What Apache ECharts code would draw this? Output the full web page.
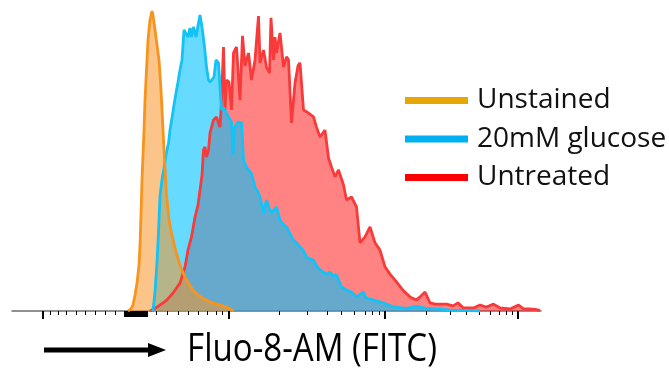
<!DOCTYPE html>
<html>
<head>
<meta charset="utf-8">
<script src="https://cdn.jsdelivr.net/npm/echarts@6/dist/echarts.min.js"></script>
<style>
html, body { margin: 0; padding: 0; background: #fff; }
#chart { width: 669px; height: 370px; }
</style>
</head>
<body>
<div id="chart"></div>
<script>
// legend order and colours
const seriesNames = ['Unstained', '20mM glucose', 'Untreated'];
const legendColors = ['#e6a800', '#00b0f0', '#ff0000'];

// [channel, count]
const unstained = [
    [232, 0], [238, 0.7], [242, 2], [246, 5.3], [250, 9.3], [254, 15.3], [256, 22], [258, 32],
    [260, 43.7], [262, 52], [264, 60.3], [266, 70.3], [269, 80.3], [272, 90.3], [276, 97], [280, 100],
    [282, 98.7], [286, 93.7], [290, 88.7], [294, 83.7], [298, 73.7], [301, 63.7], [304, 53.7], [309, 38.7],
    [314, 30.3], [319, 26], [326, 21], [333, 17], [338, 14.3], [346, 11.3], [354, 9], [362, 7],
    [372, 5.3], [382, 4.3], [396, 3], [410, 2.3], [422, 1.7], [432, 1], [444, 0]
];
const glucose20mM = [
    [282, 0], [286, 6.3], [290, 16.3], [293, 26.3], [296, 38.3], [300, 43.7], [304, 47.7], [309, 53],
    [313, 56], [316, 60.3], [320, 64.3], [324, 68.7], [329, 73.7], [332, 76.3], [336, 80.3], [340, 83.7],
    [344, 93.7], [348, 94.3], [352, 91.3], [356, 94.3], [359, 91.3], [363, 94.7], [368, 91.3], [373, 96],
    [376, 98.7], [380, 94.7], [385, 88], [389, 81.3], [393, 77], [396, 76.3], [399, 76.7], [404, 78],
    [408, 83.7], [413, 82.7], [416, 74.7], [419, 67], [424, 67.7], [429, 66], [434, 64.3], [439, 63],
    [442, 52], [445, 61], [452, 63], [459, 62.7], [463, 50.3], [470, 47.7], [479, 45.7], [486, 41.3],
    [492, 39.7], [496, 38], [503, 32.7], [509, 37], [514, 34.3], [519, 32.7], [529, 34.7], [536, 30.3],
    [542, 29], [549, 28], [556, 25.7], [563, 23.7], [569, 22.7], [576, 21.3], [582, 20.3], [589, 18],
    [596, 17.3], [603, 17], [609, 15], [616, 13.7], [622, 13], [629, 12.3], [636, 13], [642, 11.7],
    [649, 12], [659, 8], [669, 7], [679, 6.3], [689, 4.7], [703, 6.3], [708, 4.3], [722, 3.7],
    [742, 2.7], [762, 1.4], [789, 0.9], [809, 1.5], [829, 0.9], [856, 0.6], [876, 0.3], [906, 0.2], [936, 0]
];
const untreated = [
    [276, 0], [290, 1.3], [302, 2.7], [310, 3.7], [322, 6], [336, 9.3], [346, 14.7], [352, 20.3],
    [359, 24.7], [366, 31.3], [372, 35.3], [376, 40.3], [380, 45.3], [383, 53.7], [386, 54.7], [389, 51.3],
    [393, 53.7], [396, 59.3], [403, 63.7], [409, 64.7], [416, 61.3], [419, 70.3], [423, 88], [426, 67],
    [429, 77], [434, 76.3], [439, 67], [443, 86], [449, 88], [456, 70.3], [461, 91.7], [466, 81.7],
    [473, 86], [479, 77], [486, 83.7], [493, 98.3], [496, 82.7], [503, 87], [509, 81.3], [515, 79.3],
    [518, 97.7], [523, 83.7], [526, 91.3], [529, 86], [536, 92.7], [543, 81.3], [549, 84.7], [553, 83.7],
    [559, 62.7], [566, 76], [572, 81.7], [576, 82.7], [583, 67], [593, 66], [603, 64.7], [609, 61.3],
    [616, 58], [626, 60.3], [633, 51], [639, 48], [646, 44.7], [653, 47], [663, 42], [669, 37],
    [679, 38], [689, 34.7], [696, 22.7], [706, 24.7], [716, 28], [726, 22.7], [736, 20.3], [746, 14.7],
    [756, 12.3], [769, 9.7], [783, 6.7], [796, 4.7], [809, 3.7], [818, 5], [826, 6.3], [836, 2.7],
    [846, 2.3], [856, 2.3], [869, 2.3], [882, 1.7], [892, 2.7], [903, 1], [912, 1], [923, 1],
    [936, 2], [949, 1.3], [963, 2.3], [976, 1], [996, 0.7], [1013, 2], [1023, 0.7], [1036, 0.7],
    [1046, 0.5], [1056, 0.2]
];

// x axis tick positions (channel)
const majorTicks = [61, 433, 746, 1011];
const minorTicks = [77, 93, 109, 128, 147, 166, 186, 206, 289, 311, 333, 353, 373, 391, 408, 421,
    535, 591, 631, 659, 685, 706, 721, 735, 829, 876, 909, 935, 956, 975, 989, 1001];
const zeroTicks = [226, 229, 232, 235, 238, 241, 244, 247, 250, 253, 256, 259, 262, 265, 268, 270];
const xMax = 1058;
const yMax = 100;

const chart = echarts.init(document.getElementById('chart'));

function tickAxis(values, len, width) {
    return {
        type: 'value',
        position: 'bottom',
        min: 0,
        max: xMax,
        axisLine: { show: false },
        splitLine: { show: false },
        axisLabel: { show: false },
        axisTick: { show: true, length: len, customValues: values, lineStyle: { color: '#000', width: width } }
    };
}

const lineColors = ['#f7941d', '#14c2f5', '#f93a3a'];
const areaColors = ['rgba(247,150,40,0.55)', 'rgba(0,195,255,0.6)', 'rgba(255,30,30,0.55)'];
const dataSets = [unstained, glucose20mM, untreated];

// draw red first, blue over it, orange on top
const series = [2, 1, 0].map(function (i) {
    return {
        name: seriesNames[i],
        type: 'line',
        data: dataSets[i],
        showSymbol: false,
        silent: true,
        lineStyle: { color: lineColors[i], width: 2.8 },
        itemStyle: { color: lineColors[i] },
        areaStyle: { color: areaColors[i], opacity: 1 }
    };
});

chart.setOption({
    animation: false,
    grid: { left: 12, right: 128, top: 11, bottom: 59, outerBoundsMode: 'none' },
    legend: {
        orient: 'vertical',
        left: 400,
        top: 80,
        icon: 'rect',
        itemWidth: 63,
        itemHeight: 7,
        itemGap: 7.5,
        textStyle: { fontFamily: 'Open Sans', fontSize: 28, color: '#111', lineHeight: 31, padding: [0, 0, 0, 4] },
        data: seriesNames.map(function (n, i) {
            return { name: n, itemStyle: { color: legendColors[i], borderWidth: 0 } };
        })
    },
    xAxis: [
        {
            type: 'value',
            position: 'bottom',
            min: 0,
            max: xMax,
            axisLine: { show: true, lineStyle: { color: '#6e6e6e', width: 1.5 } },
            axisTick: { show: false },
            axisLabel: { show: false },
            splitLine: { show: false }
        },
        tickAxis(majorTicks, 8, 2),
        tickAxis(minorTicks, 4, 1),
        tickAxis(zeroTicks, 6, 2)
    ],
    yAxis: { type: 'value', min: 0, max: yMax, show: false },
    graphic: [
        { type: 'rect', shape: { x: 44, y: 347.5, width: 106, height: 5 }, style: { fill: '#000' } },
        { type: 'polygon', shape: { points: [[148, 343], [166, 350], [148, 357]] }, style: { fill: '#000' } },
        {
            type: 'text', x: 312, y: 350, scaleX: 0.87,
            style: { text: 'Fluo-8-AM (FITC)', font: '38px "Open Sans"', fill: '#000', align: 'center', verticalAlign: 'middle' }
        }
    ],
    series: series
});
</script>
</body>
</html>
